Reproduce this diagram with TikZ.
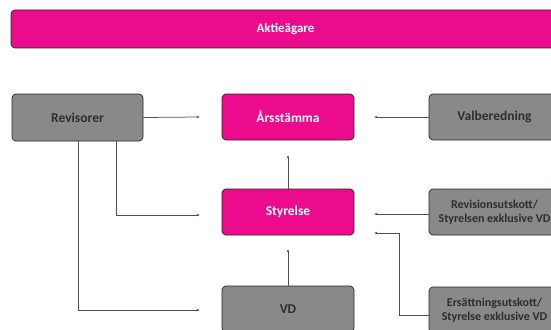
\documentclass[tikz,border=0pt]{standalone}
\usepackage{fontspec}
\setmainfont{Carlito}
\usetikzlibrary{arrows.meta}
\definecolor{mag}{HTML}{EC0B8C}
\definecolor{gbox}{HTML}{88898B}
\definecolor{gtext}{HTML}{2E2E2E}
\definecolor{lin}{HTML}{505050}
\tikzset{
  boxbase/.style={draw=black!85, line width=0.7pt, rounded corners=4pt, minimum width=131pt, minimum height=46pt, inner sep=0pt, align=center, font=\bfseries\fontsize{13.5}{15}\selectfont},
  magbox/.style={boxbase, fill=mag, text=white},
  graybox/.style={boxbase, fill=gbox, text=gtext},
  twoline/.style={font=\bfseries\fontsize{12}{14}\selectfont},
  conn/.style={draw=lin, line width=0.75pt, -{Stealth[length=3pt,width=2.6pt]}},
}
\begin{document}
\begin{tikzpicture}[x=1pt,y=-1pt]
\useasboundingbox (0,0) rectangle (551,329);
\clip (0,0) rectangle (551,329);
\fill[white] (0,0) rectangle (551,329);
\node[magbox, minimum width=549pt, minimum height=38pt, font=\bfseries\fontsize{13}{15}\selectfont] (akt) at (285.5,29) {Aktieägare};
\node[graybox, minimum height=47pt] (rev) at (77.5,117.5) {Revisorer};
\node[magbox, minimum width=132pt] (ars) at (288,117) {Årsstämma};
\node[graybox] (val) at (494.5,117) {Valberedning};
\node[magbox, minimum width=132pt] (sty) at (288,212) {Styrelse};
\node[graybox, twoline] (revu) at (494.5,212) {Revisionsutskott/\\Styrelsen exklusive VD};
\node[graybox, minimum width=132pt] (vd) at (288,309) {VD};
\node[graybox, twoline] (ers) at (494.5,310) {Ersättningsutskott/\\Styrelse exklusive VD};
\coordinate (ra) at (116,0);
\coordinate (rb) at (78,0);
\coordinate (eb) at (399,0);
\draw[conn] (rev.east) -- ([xshift=-22pt]ars.west);
\draw[conn] (rev.south -| ra) |- ([xshift=-22pt,yshift=-3pt]sty.west);
\draw[conn] (rev.south -| rb) |- ([xshift=-22pt,yshift=-1pt]vd.west);
\draw[conn] (val.west) -- ([xshift=20pt]ars.east);
\draw[conn] (sty.north) -- ([yshift=-15pt]ars.south);
\draw[conn] (vd.north) -- ([yshift=-14pt]sty.south);
\draw[conn] ([yshift=-2pt]revu.west) -- ([xshift=20pt,yshift=-2pt]sty.east);
\draw[conn] ([yshift=-5pt]ers.west) -| (eb |- 0,233) -- ([xshift=20pt,yshift=-21pt]sty.east);
\end{tikzpicture}
\end{document}
